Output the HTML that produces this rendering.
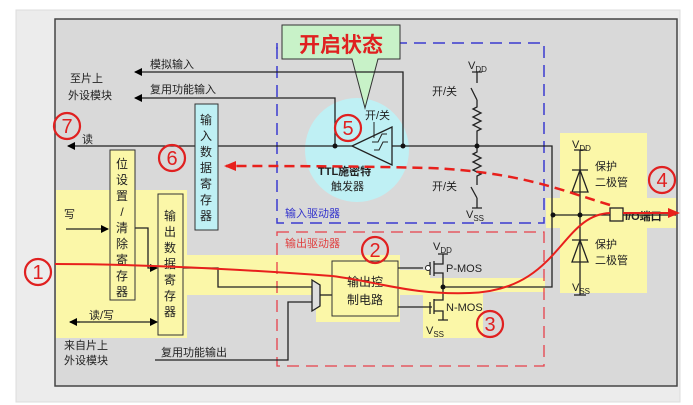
<!DOCTYPE html>
<html><head><meta charset="utf-8"><style>
html,body{margin:0;padding:0;background:#fff;}
svg{display:block;}
text{font-family:"Liberation Sans","Noto Sans CJK SC",sans-serif;}
</style></head><body>
<svg width="693" height="405" viewBox="0 0 693 405" xmlns="http://www.w3.org/2000/svg">
<defs>
<marker id="ak" markerWidth="8" markerHeight="8" refX="7" refY="4" orient="auto" markerUnits="userSpaceOnUse"><path d="M0,0 L8,4 L0,8z" fill="#000"/></marker>
<marker id="ar" markerWidth="12" markerHeight="10" refX="10" refY="5" orient="auto" markerUnits="userSpaceOnUse"><path d="M0,0 L12,5 L0,10z" fill="#e8201c"/></marker>
</defs>
<rect x="0" y="0" width="693" height="405" fill="#fff"/>
<rect x="16" y="10" width="664" height="392" fill="#ececec" stroke="#ddd"/>
<rect x="55" y="19" width="622" height="367" fill="#d9d9d9" stroke="#444" stroke-width="1.5"/>
<g fill="#fbf7a8">
<rect x="56" y="190" width="131" height="148"/>
<rect x="187" y="255" width="130" height="40"/>
<rect x="316" y="255" width="84" height="67"/>
<rect x="400" y="270" width="30" height="25"/>
<rect x="423" y="278" width="60" height="60"/>
<rect x="483" y="278" width="62" height="14"/>
<rect x="560" y="133" width="87" height="160"/>
<rect x="546" y="198" width="130" height="30"/>
</g>
<circle cx="357" cy="150" r="52" fill="#bff0f4"/>
<path d="M277,47 V223 H544 V43 H400" fill="none" stroke="#3a3ad0" stroke-width="1.5" stroke-dasharray="12,7"/>
<path d="M277,43 v6" stroke="#3a3ad0" stroke-width="1.5"/>
<rect x="277" y="232" width="267" height="134" fill="none" stroke="#e8404a" stroke-width="1.3" stroke-dasharray="12,7"/>
<text x="285" y="217" font-size="11" fill="#3333cc">输入驱动器</text>
<text x="285" y="247" font-size="11" fill="#e04040">输出驱动器</text>
<path d="M282,25 H400 V59 H378 L365,108 L352,59 H282z" fill="#c8f2c8" stroke="#333"/>
<text x="341" y="52" font-size="21" fill="#e02020" text-anchor="middle" font-weight="bold">开启状态</text>
<g stroke="#222" stroke-width="1.3" fill="none">
<path d="M403,146 V72 H135" marker-end="url(#ak)"/>
<path d="M335,146 V98 H135" marker-end="url(#ak)"/>
<path d="M195,146 H68" marker-end="url(#ak)"/>
<path d="M218,146 H355"/>
<path d="M392,146 H552 V287 H443"/>
<path d="M553,215 H610"/>
<path d="M623,215 H676"/>
<path d="M392,127 L352,146 L392,165z" fill="#bff0f4"/>
<path d="M372,142 h6 l4,-8 h5 M374,150 h5 l4,-8 h5" stroke-width="1"/>
<path d="M374,138 V122" stroke-width="1"/>
<path d="M477,72 V83 M472,72 h10 M477,100 l-6,-12 M477,100 V107 l-4,2 l8,4 l-8,4 l8,4 l-8,4 l8,4 l-4,2 V146 V152 l-4,2 l8,4 l-8,4 l8,4 l-8,4 l8,4 l-4,2 V185 M477,198 l-6,-11 M477,198 V208 M472,208 h10"/>
<path d="M580,150 V295 M574,150 h12"/>
<path d="M572,170 h16 M572,192 l8,-22 l8,22z"/>
<path d="M572,240 h16 M572,262 l8,-22 l8,22z"/>
<path d="M574,295 h12"/>
<rect x="610" y="208" width="13" height="13" fill="#fbf7a8"/>
<path d="M66,229 H108" marker-end="url(#ak)"/>
<path d="M135,228 H148 V268 H157" marker-end="url(#ak)"/>
<path d="M70,322 H157" marker-end="url(#ak)"/>
<path d="M80,322 H70" marker-end="url(#ak)"/>
<path d="M183,268 H218 V287 H312"/>
<path d="M155,360 H288 V302 H312"/>
<path d="M312,280 L320,285 V306 L312,311z" fill="#ddd"/>
<path d="M320,295 H332"/>
<path d="M398,268 H423 M398,307 H432"/>
<path d="M430,262 V275 M434,261 V276 M434,264 H443 V254 M438,254 h10 M434,273 H443 V287 V300 H434 M434,299 V314 M434,311 H443 V320 M438,320 h10"/>
<path d="M430,302 V314"/>
</g>
<circle cx="428" cy="268" r="2.5" fill="#fff" stroke="#222"/>
<g fill="#111">
<circle cx="335" cy="146" r="2.5"/><circle cx="403" cy="146" r="2.5"/><circle cx="477" cy="146" r="2.5"/>
<circle cx="553" cy="215" r="2.5"/><circle cx="580" cy="215" r="2.5"/><circle cx="443" cy="287" r="2.5"/>
</g>
<rect x="110" y="150" width="25" height="150" fill="#fbf7a8" stroke="#333"/>
<rect x="158" y="194" width="25" height="141" fill="#fbf7a8" stroke="#333"/>
<rect x="195" y="104" width="23" height="126" fill="#bff0f4" stroke="#333"/>
<rect x="332" y="261" width="66" height="55" fill="#fbf7a8" stroke="#333"/>
<g font-size="12" fill="#222" text-anchor="middle">
<text x="122" y="168">位</text><text x="122" y="184">设</text><text x="122" y="200">置</text><text x="122" y="216">/</text><text x="122" y="232">清</text><text x="122" y="248">除</text><text x="122" y="264">寄</text><text x="122" y="280">存</text><text x="122" y="296">器</text>
<text x="170" y="220">输</text><text x="170" y="236">出</text><text x="170" y="252">数</text><text x="170" y="268">据</text><text x="170" y="284">寄</text><text x="170" y="300">存</text><text x="170" y="316">器</text>
<text x="206" y="124">输</text><text x="206" y="140">入</text><text x="206" y="156">数</text><text x="206" y="172">据</text><text x="206" y="188">寄</text><text x="206" y="204">存</text><text x="206" y="220">器</text>
<text x="365" y="286">输出控</text><text x="365" y="304">制电路</text>
</g>
<g font-size="11" fill="#222">
<text x="150" y="68">模拟输入</text>
<text x="150" y="93">复用功能输入</text>
<text x="70" y="82">至片上</text><text x="68" y="99">外设模块</text>
<text x="82" y="143">读</text>
<text x="64" y="218">写</text>
<text x="89" y="319">读/写</text>
<text x="64" y="349">来自片上</text><text x="64" y="364">外设模块</text>
<text x="161" y="356">复用功能输出</text>
<text x="365" y="119">开/关</text>
<text x="432" y="95">开/关</text>
<text x="432" y="190">开/关</text>
<text x="595" y="170">保护</text><text x="595" y="186">二极管</text>
<text x="595" y="248">保护</text><text x="595" y="264">二极管</text>
<text x="318" y="175" font-weight="bold">TTL施密特</text>
<text x="331" y="190">触发器</text>
<text x="625" y="220" font-weight="bold">I/O端口</text>
<text x="446" y="272">P-MOS</text>
<text x="446" y="311">N-MOS</text>
<text x="468" y="69">V<tspan font-size="8" dy="3">DD</tspan></text>
<text x="466" y="218">V<tspan font-size="8" dy="3">SS</tspan></text>
<text x="572" y="148">V<tspan font-size="8" dy="3">DD</tspan></text>
<text x="572" y="291">V<tspan font-size="8" dy="3">SS</tspan></text>
<text x="433" y="250">V<tspan font-size="8" dy="3">DD</tspan></text>
<text x="426" y="334">V<tspan font-size="8" dy="3">SS</tspan></text>
</g>
<path d="M55,264 C150,264 250,270 332,276 C380,282 410,295 470,293 C560,290 560,215 610,213" fill="none" stroke="#e8201c" stroke-width="2"/>
<path d="M623,213 H678" fill="none" stroke="#e8201c" stroke-width="2" marker-end="url(#ar)"/>
<path d="M610,205 C560,190 520,172 430,168 C350,166 280,166 226,166" fill="none" stroke="#e8201c" stroke-width="2.5" stroke-dasharray="10,6" marker-end="url(#ar)"/>
<g fill="none" stroke="#e02020" stroke-width="2.2">
<circle cx="38" cy="272" r="13"/><circle cx="375" cy="250" r="13"/><circle cx="490" cy="324" r="13"/>
<circle cx="662" cy="180" r="13"/><circle cx="348" cy="128" r="13"/><circle cx="172" cy="158" r="13"/><circle cx="67" cy="126" r="13"/>
</g>
<g font-size="20" fill="#e02020" text-anchor="middle" font-family="Liberation Serif, serif" style="font-family:'Liberation Serif',serif">
<text x="38" y="279">1</text><text x="375" y="257">2</text><text x="490" y="331">3</text>
<text x="662" y="187">4</text><text x="348" y="135">5</text><text x="172" y="165">6</text><text x="67" y="133">7</text>
</g>
</svg>
</body></html>
